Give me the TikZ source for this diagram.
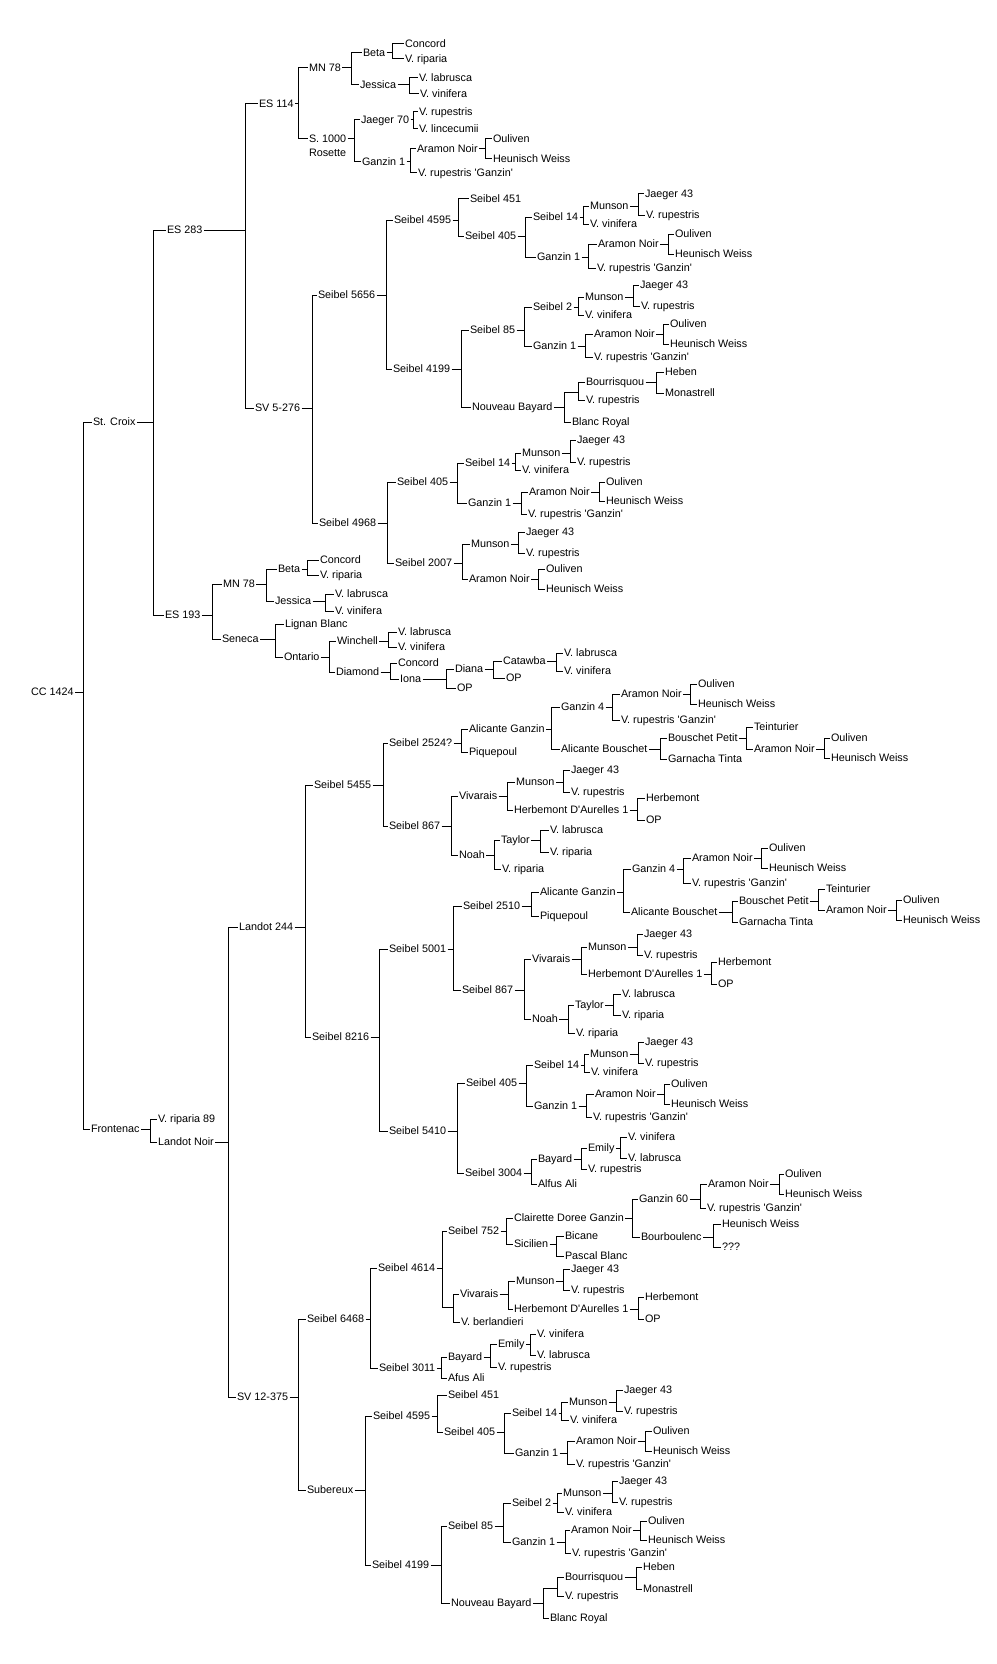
\documentclass[tikz,border=0pt]{standalone}
\usepackage{fontspec}
\setmainfont[Ligatures=TeXOff]{Liberation Sans}
\tikzset{
  lab/.style={anchor=west, inner xsep=1.5pt, inner ysep=0pt, outer sep=0pt, xshift=-1.5pt,
    text height=7.8pt, text depth=0pt, font=\fontsize{10.8}{12}\selectfont},
  junc/.style={inner sep=0pt, outer sep=0pt, minimum size=0pt},
  conn/.style={line width=1pt, black}
}
\newcommand\GNode[4]{\node[lab] (#1) at (#2,#3) {#4};}
\newcommand\GPt[3]{\node[junc] (#1) at (#2,#3) {};}
\newcommand\GFam[4]{%
  \coordinate (bx) at (#2,0);
  \draw[conn] (#1.east) -- (#1.east -| bx);
  \draw[conn] (#3.west) -- (#3.west -| bx) -- (#4.west -| bx) -- (#4.west);}
\begin{document}
\begin{tikzpicture}[x=1pt,y=-1pt]
\fill[white] (0,0) rectangle (996,1664);
\path[use as bounding box] (0,0) rectangle (996,1664);
% root
\GNode{cc}{31}{692}{CC 1424}
\GNode{stc}{93}{422}{St. Croix}
\GNode{fro}{91}{1129}{Frontenac}
\GFam{cc}{83}{stc}{fro}
% St. Croix
\GNode{es283}{167}{230}{ES 283}
\GNode{es193}{165}{615}{ES 193}
\GFam{stc}{153}{es283}{es193}
\GNode{es114}{259}{104}{ES 114}
\GNode{sv5}{255}{408}{SV 5-276}
\GFam{es283}{245}{es114}{sv5}
\GNode{mn78a}{309}{68}{MN 78}
\GNode{s1000}{309}{139}{S. 1000}
\GNode{ros}{309}{153}{Rosette}
\GFam{es114}{298}{mn78a}{s1000}
\GNode{betaa}{363}{53}{Beta}
\GNode{jesa}{360}{85}{Jessica}
\GFam{mn78a}{351}{betaa}{jesa}
\GNode{cona}{405}{44}{Concord}
\GNode{vripa}{405}{59}{V. riparia}
\GFam{betaa}{392}{cona}{vripa}
\GNode{vlaba}{419}{78}{V. labrusca}
\GNode{vvina}{420}{94}{V. vinifera}
\GFam{jesa}{409}{vlaba}{vvina}
\GNode{j70}{361}{120}{Jaeger 70}
\GNode{g1a}{362}{162}{Ganzin 1}
\GFam{s1000}{354}{j70}{g1a}
\GNode{vrupa}{419}{112}{V. rupestris}
\GNode{vlin}{419}{129}{V. lincecumii}
\GFam{j70}{413}{vrupa}{vlin}
\GNode{ana}{417}{149}{Aramon Noir}
\GNode{vrga}{418}{173}{V. rupestris 'Ganzin'}
\GFam{g1a}{410}{ana}{vrga}
\GNode{oula}{493}{139}{Ouliven}
\GNode{hwa}{493}{159}{Heunisch Weiss}
\GFam{ana}{485}{oula}{hwa}
% SV 5-276
\GNode{s5656}{318}{295}{Seibel 5656}
\GNode{s4968}{319}{523}{Seibel 4968}
\GFam{sv5}{312}{s5656}{s4968}
\GNode{s4595a}{394}{220}{Seibel 4595}
\GNode{s4199a}{393}{369}{Seibel 4199}
\GFam{s5656}{386}{s4595a}{s4199a}
\GNode{s451a}{470}{199}{Seibel 451}
\GNode{s405a}{465}{236}{Seibel 405}
\GFam{s4595a}{458}{s451a}{s405a}
\GNode{s14a}{533}{217}{Seibel 14}
\GNode{g1b}{537}{257}{Ganzin 1}
\GFam{s405a}{525}{s14a}{g1b}
\GNode{muna}{590}{206}{Munson}
\GNode{vvinb}{590}{224}{V. vinifera}
\GFam{s14a}{583}{muna}{vvinb}
\GNode{j43a}{645}{194}{Jaeger 43}
\GNode{vrupb}{646}{215}{V. rupestris}
\GFam{muna}{638}{j43a}{vrupb}
\GNode{anb}{598}{244}{Aramon Noir}
\GNode{vrgb}{597}{268}{V. rupestris 'Ganzin'}
\GFam{g1b}{588}{anb}{vrgb}
\GNode{oulb}{675}{234}{Ouliven}
\GNode{hwb}{675}{254}{Heunisch Weiss}
\GFam{anb}{668}{oulb}{hwb}
\GNode{s85a}{470}{330}{Seibel 85}
\GNode{nba}{472}{407}{Nouveau Bayard}
\GFam{s4199a}{461}{s85a}{nba}
\GNode{s2a}{533}{307}{Seibel 2}
\GNode{g1c}{533}{346}{Ganzin 1}
\GFam{s85a}{524}{s2a}{g1c}
\GNode{munb}{585}{297}{Munson}
\GNode{vvinc}{585}{315}{V. vinifera}
\GFam{s2a}{578}{munb}{vvinc}
\GNode{j43b}{640}{285}{Jaeger 43}
\GNode{vrupc}{641}{306}{V. rupestris}
\GFam{munb}{633}{j43b}{vrupc}
\GNode{anc}{594}{334}{Aramon Noir}
\GNode{vrgc}{594}{357}{V. rupestris 'Ganzin'}
\GFam{g1c}{585}{anc}{vrgc}
\GNode{oulc}{670}{324}{Ouliven}
\GNode{hwc}{670}{344}{Heunisch Weiss}
\GFam{anc}{663}{oulc}{hwc}
\GPt{ua}{564}{392}
\GNode{blra}{572}{422}{Blanc Royal}
\GFam{nba}{564}{ua}{blra}
\GNode{boua}{586}{382}{Bourrisquou}
\GNode{vrupd}{586}{400}{V. rupestris}
\GFam{ua}{578}{boua}{vrupd}
\GNode{heba}{665}{372}{Heben}
\GNode{mona}{665}{393}{Monastrell}
\GFam{boua}{656}{heba}{mona}
\GNode{s405b}{397}{482}{Seibel 405}
\GNode{s2007}{395}{563}{Seibel 2007}
\GFam{s4968}{387}{s405b}{s2007}
\GNode{s14b}{465}{463}{Seibel 14}
\GNode{g1d}{468}{503}{Ganzin 1}
\GFam{s405b}{457}{s14b}{g1d}
\GNode{munc}{522}{453}{Munson}
\GNode{vvind}{522}{470}{V. vinifera}
\GFam{s14b}{515}{munc}{vvind}
\GNode{j43c}{577}{440}{Jaeger 43}
\GNode{vrupe}{577}{462}{V. rupestris}
\GFam{munc}{570}{j43c}{vrupe}
\GNode{and}{529}{492}{Aramon Noir}
\GNode{vrgd}{528}{514}{V. rupestris 'Ganzin'}
\GFam{g1d}{521}{and}{vrgd}
\GNode{ould}{606}{482}{Ouliven}
\GNode{hwd}{606}{501}{Heunisch Weiss}
\GFam{and}{599}{ould}{hwd}
\GNode{mund}{471}{544}{Munson}
\GNode{ane}{469}{579}{Aramon Noir}
\GFam{s2007}{462}{mund}{ane}
\GNode{j43d}{526}{532}{Jaeger 43}
\GNode{vrupf}{526}{553}{V. rupestris}
\GFam{mund}{518}{j43d}{vrupf}
\GNode{oule}{546}{569}{Ouliven}
\GNode{hwe}{546}{589}{Heunisch Weiss}
\GFam{ane}{538}{oule}{hwe}
% ES 193
\GNode{mn78b}{223}{584}{MN 78}
\GNode{sen}{222}{639}{Seneca}
\GFam{es193}{212}{mn78b}{sen}
\GNode{betab}{278}{569}{Beta}
\GNode{jesb}{275}{601}{Jessica}
\GFam{mn78b}{266}{betab}{jesb}
\GNode{conb}{320}{560}{Concord}
\GNode{vripb}{320}{575}{V. riparia}
\GFam{betab}{307}{conb}{vripb}
\GNode{vlabb}{335}{594}{V. labrusca}
\GNode{vvine}{335}{611}{V. vinifera}
\GFam{jesb}{325}{vlabb}{vvine}
\GNode{lig}{285}{624}{Lignan Blanc}
\GNode{ont}{284}{657}{Ontario}
\GFam{sen}{275}{lig}{ont}
\GNode{win}{337}{641}{Winchell}
\GNode{dia}{336}{672}{Diamond}
\GFam{ont}{329}{win}{dia}
\GNode{vlabc}{398}{632}{V. labrusca}
\GNode{vvinf}{398}{647}{V. vinifera}
\GFam{win}{388}{vlabc}{vvinf}
\GNode{conc}{398}{663}{Concord}
\GNode{iona}{400}{679}{Iona}
\GFam{dia}{390}{conc}{iona}
\GNode{diana}{455}{669}{Diana}
\GNode{opa}{457}{688}{OP}
\GFam{iona}{446}{diana}{opa}
\GNode{cat}{503}{661}{Catawba}
\GNode{opb}{506}{678}{OP}
\GFam{diana}{493}{cat}{opb}
\GNode{vlabd}{564}{653}{V. labrusca}
\GNode{vving}{564}{671}{V. vinifera}
\GFam{cat}{556}{vlabd}{vving}
% Frontenac
\GNode{vrip89}{158}{1119}{V. riparia 89}
\GNode{lnoir}{158}{1142}{Landot Noir}
\GFam{fro}{150}{vrip89}{lnoir}
\GNode{l244}{239}{927}{Landot 244}
\GNode{sv12}{237}{1397}{SV 12-375}
\GFam{lnoir}{228}{l244}{sv12}
\GNode{s5455}{314}{785}{Seibel 5455}
\GNode{s8216}{312}{1037}{Seibel 8216}
\GFam{l244}{305}{s5455}{s8216}
\GNode{s2524}{389}{743}{Seibel 2524?}
\GNode{s867a}{389}{826}{Seibel 867}
\GFam{s5455}{383}{s2524}{s867a}
\GNode{aga}{469}{729}{Alicante Ganzin}
\GNode{pqa}{469}{752}{Piquepoul}
\GFam{s2524}{461}{aga}{pqa}
\GNode{g4a}{561}{707}{Ganzin 4}
\GNode{aba}{561}{749}{Alicante Bouschet}
\GFam{aga}{551}{g4a}{aba}
\GNode{anf}{621}{694}{Aramon Noir}
\GNode{vrge}{621}{720}{V. rupestris 'Ganzin'}
\GFam{g4a}{612}{anf}{vrge}
\GNode{oulf}{698}{684}{Ouliven}
\GNode{hwf}{698}{704}{Heunisch Weiss}
\GFam{anf}{690}{oulf}{hwf}
\GNode{bpa}{668}{738}{Bouschet Petit}
\GNode{gta}{668}{759}{Garnacha Tinta}
\GFam{aba}{660}{bpa}{gta}
\GNode{teia}{754}{727}{Teinturier}
\GNode{ang}{754}{749}{Aramon Noir}
\GFam{bpa}{746}{teia}{ang}
\GNode{oulg}{831}{738}{Ouliven}
\GNode{hwg}{831}{758}{Heunisch Weiss}
\GFam{ang}{824}{oulg}{hwg}
\GNode{viva}{459}{796}{Vivarais}
\GNode{noaha}{459}{855}{Noah}
\GFam{s867a}{451}{viva}{noaha}
\GNode{mune}{516}{782}{Munson}
\GNode{hdaa}{514}{810}{Herbemont D'Aurelles 1}
\GFam{viva}{507}{mune}{hdaa}
\GNode{j43e}{571}{770}{Jaeger 43}
\GNode{vrupg}{571}{792}{V. rupestris}
\GFam{mune}{563}{j43e}{vrupg}
\GNode{herba}{646}{798}{Herbemont}
\GNode{opc}{646}{820}{OP}
\GFam{hdaa}{637}{herba}{opc}
\GNode{taya}{501}{840}{Taylor}
\GNode{vripc}{502}{869}{V. riparia}
\GFam{noaha}{494}{taya}{vripc}
\GNode{vlabe}{550}{830}{V. labrusca}
\GNode{vripd}{550}{852}{V. riparia}
\GFam{taya}{540}{vlabe}{vripd}
% Seibel 8216
\GNode{s5001}{389}{949}{Seibel 5001}
\GNode{s5410}{389}{1131}{Seibel 5410}
\GFam{s8216}{379}{s5001}{s5410}
\GNode{s2510}{463}{906}{Seibel 2510}
\GNode{s867b}{462}{990}{Seibel 867}
\GFam{s5001}{453}{s2510}{s867b}
\GNode{agb}{540}{892}{Alicante Ganzin}
\GNode{pqb}{540}{916}{Piquepoul}
\GFam{s2510}{531}{agb}{pqb}
\GNode{g4b}{632}{869}{Ganzin 4}
\GNode{abb}{631}{912}{Alicante Bouschet}
\GFam{agb}{623}{g4b}{abb}
\GNode{anh}{692}{858}{Aramon Noir}
\GNode{vrgf}{692}{883}{V. rupestris 'Ganzin'}
\GFam{g4b}{683}{anh}{vrgf}
\GNode{oulh}{769}{848}{Ouliven}
\GNode{hwh}{769}{868}{Heunisch Weiss}
\GFam{anh}{761}{oulh}{hwh}
\GNode{bpb}{739}{901}{Bouschet Petit}
\GNode{gtb}{739}{922}{Garnacha Tinta}
\GFam{abb}{732}{bpb}{gtb}
\GNode{teib}{826}{889}{Teinturier}
\GNode{ani}{826}{910}{Aramon Noir}
\GFam{bpb}{818}{teib}{ani}
\GNode{ouli}{903}{900}{Ouliven}
\GNode{hwi}{903}{920}{Heunisch Weiss}
\GFam{ani}{896}{ouli}{hwi}
\GNode{vivb}{532}{959}{Vivarais}
\GNode{noahb}{532}{1019}{Noah}
\GFam{s867b}{524}{vivb}{noahb}
\GNode{munf}{588}{947}{Munson}
\GNode{hdab}{588}{974}{Herbemont D'Aurelles 1}
\GFam{vivb}{581}{munf}{hdab}
\GNode{j43f}{644}{934}{Jaeger 43}
\GNode{vruph}{644}{955}{V. rupestris}
\GFam{munf}{637}{j43f}{vruph}
\GNode{herbb}{718}{962}{Herbemont}
\GNode{opd}{718}{984}{OP}
\GFam{hdab}{711}{herbb}{opd}
\GNode{tayb}{575}{1005}{Taylor}
\GNode{vripe}{576}{1033}{V. riparia}
\GFam{noahb}{568}{tayb}{vripe}
\GNode{vlabf}{622}{994}{V. labrusca}
\GNode{vripf}{622}{1015}{V. riparia}
\GFam{tayb}{613}{vlabf}{vripf}
\GNode{s405c}{466}{1083}{Seibel 405}
\GNode{s3004}{465}{1173}{Seibel 3004}
\GFam{s5410}{457}{s405c}{s3004}
\GNode{s14c}{534}{1065}{Seibel 14}
\GNode{g1e}{534}{1106}{Ganzin 1}
\GFam{s405c}{526}{s14c}{g1e}
\GNode{mung}{590}{1054}{Munson}
\GNode{vvinh}{591}{1072}{V. vinifera}
\GFam{s14c}{584}{mung}{vvinh}
\GNode{j43g}{645}{1042}{Jaeger 43}
\GNode{vrupi}{645}{1063}{V. rupestris}
\GFam{mung}{638}{j43g}{vrupi}
\GNode{anj}{595}{1094}{Aramon Noir}
\GNode{vrgg}{593}{1117}{V. rupestris 'Ganzin'}
\GFam{g1e}{586}{anj}{vrgg}
\GNode{oulj}{671}{1084}{Ouliven}
\GNode{hwj}{671}{1104}{Heunisch Weiss}
\GFam{anj}{664}{oulj}{hwj}
\GNode{baya}{538}{1159}{Bayard}
\GNode{alfa}{538}{1184}{Alfus Ali}
\GFam{s3004}{531}{baya}{alfa}
\GNode{emia}{588}{1148}{Emily}
\GNode{vrupj}{588}{1169}{V. rupestris}
\GFam{baya}{581}{emia}{vrupj}
\GNode{vvini}{628}{1137}{V. vinifera}
\GNode{vlabg}{628}{1158}{V. labrusca}
\GFam{emia}{620}{vvini}{vlabg}
% SV 12-375
\GNode{s6468}{307}{1319}{Seibel 6468}
\GNode{sub}{307}{1490}{Subereux}
\GFam{sv12}{298}{s6468}{sub}
\GNode{s4614}{378}{1268}{Seibel 4614}
\GNode{s3011}{379}{1368}{Seibel 3011}
\GFam{s6468}{370}{s4614}{s3011}
\GNode{s752}{448}{1231}{Seibel 752}
\GPt{ub}{442}{1307}
\GFam{s4614}{442}{s752}{ub}
\GNode{cdg}{514}{1218}{Clairette Doree Ganzin}
\GNode{sic}{514}{1244}{Sicilien}
\GFam{s752}{506}{cdg}{sic}
\GNode{g60}{639}{1199}{Ganzin 60}
\GNode{bou}{641}{1237}{Bourboulenc}
\GFam{cdg}{632}{g60}{bou}
\GNode{ank}{708}{1184}{Aramon Noir}
\GNode{vrgh}{707}{1208}{V. rupestris 'Ganzin'}
\GFam{g60}{700}{ank}{vrgh}
\GNode{oulk}{785}{1174}{Ouliven}
\GNode{hwk}{785}{1194}{Heunisch Weiss}
\GFam{ank}{779}{oulk}{hwk}
\GNode{hwl}{722}{1224}{Heunisch Weiss}
\GNode{qqq}{722}{1247}{???}
\GFam{bou}{713}{hwl}{qqq}
\GNode{bic}{565}{1236}{Bicane}
\GNode{pas}{565}{1256}{Pascal Blanc}
\GFam{sic}{556}{bic}{pas}
\GNode{vivc}{460}{1294}{Vivarais}
\GNode{vber}{461}{1322}{V. berlandieri}
\GFam{ub}{453}{vivc}{vber}
\GNode{munh}{516}{1281}{Munson}
\GNode{hdac}{514}{1309}{Herbemont D'Aurelles 1}
\GFam{vivc}{508}{munh}{hdac}
\GNode{j43h}{571}{1269}{Jaeger 43}
\GNode{vrupk}{571}{1290}{V. rupestris}
\GFam{munh}{563}{j43h}{vrupk}
\GNode{herbc}{645}{1297}{Herbemont}
\GNode{ope}{645}{1319}{OP}
\GFam{hdac}{638}{herbc}{ope}
\GNode{bayb}{448}{1357}{Bayard}
\GNode{afu}{448}{1378}{Afus Ali}
\GFam{s3011}{441}{bayb}{afu}
\GNode{emib}{498}{1344}{Emily}
\GNode{vrupl}{498}{1367}{V. rupestris}
\GFam{bayb}{490}{emib}{vrupl}
\GNode{vvinj}{537}{1334}{V. vinifera}
\GNode{vlabh}{537}{1355}{V. labrusca}
\GFam{emib}{530}{vvinj}{vlabh}
% Subereux
\GNode{s4595b}{373}{1416}{Seibel 4595}
\GNode{s4199b}{372}{1565}{Seibel 4199}
\GFam{sub}{365}{s4595b}{s4199b}
\GNode{s451b}{448}{1395}{Seibel 451}
\GNode{s405d}{444}{1432}{Seibel 405}
\GFam{s4595b}{437}{s451b}{s405d}
\GNode{s14d}{512}{1413}{Seibel 14}
\GNode{g1f}{515}{1453}{Ganzin 1}
\GFam{s405d}{504}{s14d}{g1f}
\GNode{muni}{569}{1402}{Munson}
\GNode{vvink}{570}{1420}{V. vinifera}
\GFam{s14d}{561}{muni}{vvink}
\GNode{j43i}{624}{1390}{Jaeger 43}
\GNode{vrupm}{624}{1411}{V. rupestris}
\GFam{muni}{616}{j43i}{vrupm}
\GNode{anl}{576}{1441}{Aramon Noir}
\GNode{vrgi}{576}{1464}{V. rupestris 'Ganzin'}
\GFam{g1f}{567}{anl}{vrgi}
\GNode{oull}{653}{1431}{Ouliven}
\GNode{hwm}{653}{1451}{Heunisch Weiss}
\GFam{anl}{645}{oull}{hwm}
\GNode{s85b}{448}{1526}{Seibel 85}
\GNode{nbb}{451}{1603}{Nouveau Bayard}
\GFam{s4199b}{441}{s85b}{nbb}
\GNode{s2b}{512}{1503}{Seibel 2}
\GNode{g1g}{512}{1542}{Ganzin 1}
\GFam{s85b}{503}{s2b}{g1g}
\GNode{munj}{563}{1493}{Munson}
\GNode{vvinl}{565}{1512}{V. vinifera}
\GFam{s2b}{557}{munj}{vvinl}
\GNode{j43j}{619}{1481}{Jaeger 43}
\GNode{vrupn}{619}{1502}{V. rupestris}
\GFam{munj}{612}{j43j}{vrupn}
\GNode{anm}{571}{1530}{Aramon Noir}
\GNode{vrgj}{572}{1553}{V. rupestris 'Ganzin'}
\GFam{g1g}{565}{anm}{vrgj}
\GNode{oulm}{648}{1521}{Ouliven}
\GNode{hwn}{648}{1540}{Heunisch Weiss}
\GFam{anm}{640}{oulm}{hwn}
\GPt{uc}{543}{1588}
\GNode{blrb}{550}{1618}{Blanc Royal}
\GFam{nbb}{543}{uc}{blrb}
\GNode{boub}{565}{1577}{Bourrisquou}
\GNode{vrupo}{565}{1596}{V. rupestris}
\GFam{uc}{557}{boub}{vrupo}
\GNode{hebb}{643}{1567}{Heben}
\GNode{monb}{643}{1589}{Monastrell}
\GFam{boub}{636}{hebb}{monb}
\end{tikzpicture}
\end{document}
